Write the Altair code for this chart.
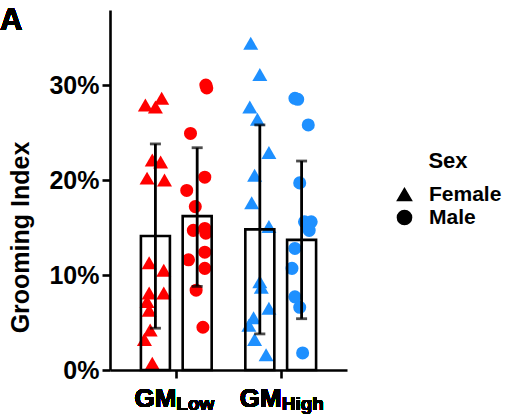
import altair as alt
import pandas as pd

# ---- data ----
groups = ["Low", "High"]            # GM subscript
sexes = ["Female", "Male"]
group_colors = ["#FF0000", "#1E90FF"]

fl_vals = [27.9, 27.7, 28.6, 22.1, 21.9, 20.2, 20.0, 11.3, 10.5, 8.1, 8.1, 7.2, 6.3, 4.2, 3.2, 0.7]
fl_jit = [-0.096, 0.0, 0.06, -0.03, 0.05, -0.08, 0.087, -0.06, 0.08, 0.08, -0.06, -0.08, -0.06, -0.05, -0.105, -0.03]
ml_vals = [30.0, 29.7, 24.9, 20.3, 18.9, 17.2, 14.7, 14.9, 14.4, 12.4, 11.6, 10.7, 8.4, 4.5]
ml_jit = [0.083, 0.092, -0.064, 0.073, -0.10, -0.018, -0.037, 0.073, 0.083, 0.073, -0.083, 0.073, -0.01, 0.055]
fh_vals = [34.4, 31.1, 27.7, 26.4, 22.9, 20.5, 17.6, 15.1, 9.3, 8.7, 6.5, 5.5, 4.7, 3.2, 1.6]
fh_jit = [-0.087, 0.0, -0.096, -0.023, 0.087, -0.05, -0.078, 0.087, 0.0, 0.014, 0.087, -0.06, -0.105, -0.05, 0.06]
mh_vals = [28.6, 28.5, 25.8, 19.7, 15.6, 15.6, 14.7, 12.8, 10.7, 7.7, 6.6, 1.8]
mh_jit = [-0.064, -0.037, 0.064, -0.018, 0.028, 0.092, 0.073, -0.064, -0.092, -0.064, -0.018, 0.01]

# bars: order Female-Low, Male-Low, Female-High, Male-High (percent)
bar_group = ["Low", "Low", "High", "High"]
bar_sex = ["Female", "Male", "Female", "Male"]
bar_mean = [14.1, 16.2, 14.8, 13.7]
bar_lo = [4.4, 8.8, 3.8, 5.4]
bar_hi = [23.8, 23.4, 25.8, 22.0]

# ---- tables ----
gidx = {"Low": 1, "High": 2}
soff = {"Female": -0.2, "Male": 0.2}

rows = []
for g, s, vals, jit in [("Low", "Female", fl_vals, fl_jit), ("Low", "Male", ml_vals, ml_jit),
                        ("High", "Female", fh_vals, fh_jit), ("High", "Male", mh_vals, mh_jit)]:
    for v, j in zip(vals, jit):
        rows.append({"group": g, "Sex": s, "value": v / 100, "pos": gidx[g] + soff[s] + j})
pts = pd.DataFrame(rows)

bars = pd.DataFrame({
    "group": bar_group, "Sex": bar_sex,
    "mean": [m / 100 for m in bar_mean],
    "lo": [m / 100 for m in bar_lo],
    "hi": [m / 100 for m in bar_hi],
})
bars["pos"] = [gidx[g] + soff[s] for g, s in zip(bar_group, bar_sex)]

FONT = "Liberation Sans"

xscale = alt.Scale(domain=[0.413, 2.587], nice=False, zero=False)
yscale = alt.Scale(domain=[0, 0.379], nice=False)

x_axis = alt.Axis(values=[1, 2], labels=False, title=None, tickSize=8, grid=False)
y_axis = alt.Axis(values=[0, 0.1, 0.2, 0.3], format=".0%", title="Grooming Index",
                  tickSize=8, labelPadding=3, grid=False,
                  titleX=-82, titleY=227, titleAngle=270, titleAlign="center",
                  titleBaseline="alphabetic")

shape_enc = alt.Shape("Sex:N", scale=alt.Scale(domain=sexes, range=["triangle-up", "circle"]),
                      legend=alt.Legend(title="Sex", orient="none", legendX=284, legendY=141,
                                        symbolFillColor="black", symbolStrokeColor="black",
                                        symbolSize=200, labelOffset=14, rowPadding=1,
                                        titleAnchor="middle", titlePadding=11))
color_enc = alt.Color("group:N", scale=alt.Scale(domain=groups, range=group_colors), legend=None)


def point_layer(sex, size):
    return alt.Chart(pts).transform_filter(alt.datum.Sex == sex).mark_point(
        filled=True, opacity=1, size=size).encode(
        x=alt.X("pos:Q", scale=xscale, axis=x_axis),
        y=alt.Y("value:Q", scale=yscale, axis=y_axis),
        color=color_enc,
        shape=shape_enc,
    )


pts_f = point_layer("Female", 225)
pts_m = point_layer("Male", 170)

bar_layer = alt.Chart(bars).mark_bar(size=29, orient="vertical", fill=None, fillOpacity=0,
                                     stroke="black", strokeWidth=2.6).encode(
    x=alt.X("pos:Q", scale=xscale),
    y=alt.Y("mean:Q", scale=yscale),
)

err_rule = alt.Chart(bars).mark_rule(color="black", strokeWidth=2.8).encode(
    x=alt.X("pos:Q", scale=xscale),
    y=alt.Y("lo:Q", scale=yscale),
    y2="hi:Q",
)
cap_hi = alt.Chart(bars).mark_tick(orient="horizontal", color="black", size=11, thickness=2.8).encode(
    x=alt.X("pos:Q", scale=xscale), y=alt.Y("hi:Q", scale=yscale))
cap_lo = alt.Chart(bars).mark_tick(orient="horizontal", color="black", size=11, thickness=2.8).encode(
    x=alt.X("pos:Q", scale=xscale), y=alt.Y("lo:Q", scale=yscale))

labels = []
for g, dx in [("Low", 0), ("High", 1)]:
    labels.append(alt.Chart(pts).mark_text(text="GM", align="right", baseline="alphabetic",
                                           font=FONT, fontWeight="bold", fontSize=26, color="black",
                                           dx=dx).encode(
        x=alt.datum(gidx[g], scale=xscale), y=alt.value(397)))
    labels.append(alt.Chart(pts).mark_text(text=g, align="left", baseline="alphabetic",
                                           font=FONT, fontWeight="bold", fontSize=19, color="black",
                                           dx=dx).encode(
        x=alt.datum(gidx[g], scale=xscale), y=alt.value(400)))

panel = alt.Chart(pts).mark_text(text="A", align="left", baseline="alphabetic", font=FONT,
                                 fontWeight="bold", fontSize=31, color="black").encode(
    x=alt.value(-110), y=alt.value(20))

chart = alt.layer(pts_f, pts_m, bar_layer, err_rule, cap_hi, cap_lo, *labels, panel).properties(
    width=237, height=360,
    autosize="none",
    padding={"left": 110, "top": 10, "right": 165, "bottom": 45},
).configure_view(stroke=None).configure_axis(
    domainColor="black", domainWidth=2.6, tickColor="black", tickWidth=2.6,
    labelFont=FONT, labelFontWeight="bold", labelFontSize=25, labelColor="black",
    titleFont=FONT, titleFontWeight="bold", titleFontSize=25, titleColor="black",
).configure_legend(
    labelFont=FONT, labelFontWeight="bold", labelFontSize=21, labelColor="black",
    titleFont=FONT, titleFontWeight="bold", titleFontSize=22, titleColor="black",
)

chart.save("out.html", embed_options={"renderer": "svg", "actions": False})
